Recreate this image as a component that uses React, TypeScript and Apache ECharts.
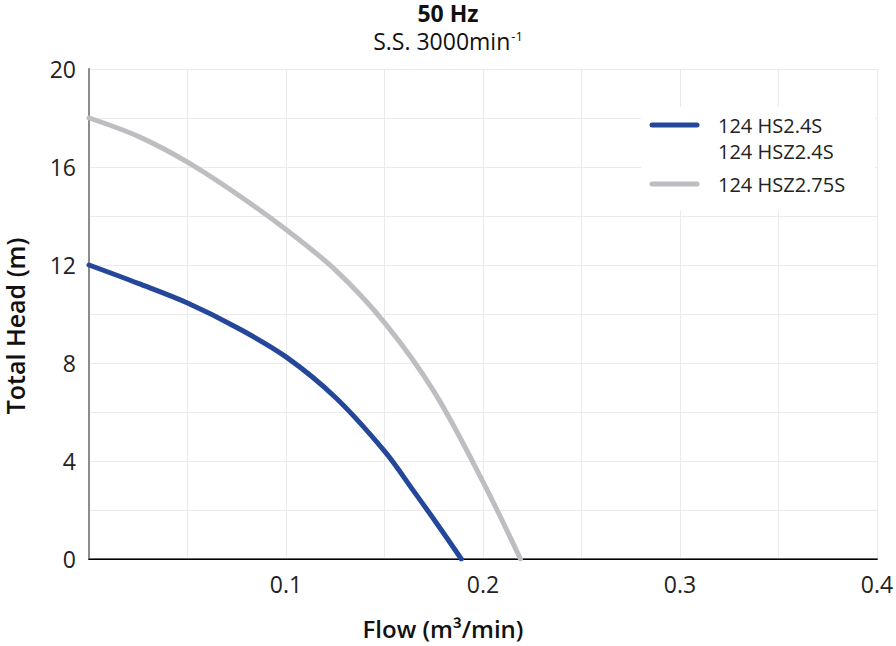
import React, { useEffect, useRef } from "react";
import * as echarts from "echarts";

const seriesNames = ["124 HS2.4S\n124 HSZ2.4S", "124 HSZ2.75S"];
const seriesColors = ["#24479a", "#bdbec2"];
const blueFlow = [0, 0.025, 0.05, 0.075, 0.1, 0.125, 0.15, 0.165, 0.177, 0.189];
const blueHead = [12, 11.25, 10.45, 9.45, 8.25, 6.6, 4.4, 2.75, 1.4, 0];
const grayFlow = [0, 0.025, 0.05, 0.075, 0.1, 0.125, 0.15, 0.175, 0.2, 0.219];
const grayHead = [18, 17.25, 16.2, 14.9, 13.45, 11.8, 9.65, 6.85, 3.15, 0];
const xTicks = [0.1, 0.2, 0.3, 0.4];
const yTicks = [0, 4, 8, 12, 16, 20];

const FONT = "'Open Sans', 'Noto Sans', sans-serif";

export default function App() {
  const ref = useRef<HTMLDivElement>(null);
  useEffect(() => {
    if (!ref.current) return;
    const chart = echarts.init(ref.current, null, { renderer: "svg" });
    const zip = (xs: number[], ys: number[]) => xs.map((x, i) => [x, ys[i]]);
    const legendRows = [
      { name: seriesNames[0], color: seriesColors[0], y: 125 },
      { name: seriesNames[1], color: seriesColors[1], y: 184 },
    ];
    chart.setOption({
      animation: false,
      textStyle: { fontFamily: FONT },
      title: [
        {
          text: "50 Hz",
          left: "center",
          top: 2,
          padding: 0,
          textStyle: { fontFamily: FONT, fontSize: 23, fontWeight: "bold", color: "#111", lineHeight: 22 },
        },
        {
          text: "{a|S.S. 3000min}{b|-1}",
          left: "center",
          top: 29,
          padding: 0,
          textStyle: {
            fontFamily: FONT,
            fontWeight: "normal",
            rich: {
              a: { fontFamily: FONT, fontSize: 23, fontWeight: "normal", color: "#111", lineHeight: 23 },
              b: { fontFamily: FONT, fontSize: 13, fontWeight: "normal", color: "#111", lineHeight: 23, verticalAlign: "top", padding: [0, 0, 10, 1] },
            },
          },
        },
      ],
      grid: { left: 89, top: 69, right: 19, bottom: 87, show: false, outerBoundsMode: "none", containLabel: false },
      xAxis: [
        {
          type: "value",
          min: 0,
          max: 0.4,
          interval: 0.05,
          name: "Flow (m³/min)",
          nameLocation: "middle",
          nameGap: 57,
          nameTextStyle: { fontFamily: FONT, fontSize: 24, fontWeight: 600, color: "#111", padding: [0, 80, 0, 0] },
          axisLine: { show: true, lineStyle: { color: "#666", width: 2 } },
          axisTick: { show: false },
          axisLabel: {
            fontFamily: FONT,
            fontSize: 23,
            color: "#222",
            margin: 13,
            formatter: (v: number) => {
              const r = Math.round(v * 100) / 100;
              return xTicks.some((t) => Math.abs(t - r) < 1e-9) ? String(r) : "";
            },
          },
          splitLine: { show: true, lineStyle: { color: "#ebebeb", width: 1 } },
        },
        {
          type: "value",
          position: "top",
          min: 0,
          max: 0.4,
          axisLine: { show: true, lineStyle: { color: "#000", width: 1 } },
          axisTick: { show: false },
          axisLabel: { show: false },
          splitLine: { show: false },
        },
      ],
      yAxis: [
        {
          type: "value",
          min: 0,
          max: 20,
          interval: 2,
          name: "Total Head (m)",
          nameLocation: "middle",
          nameGap: 61,
          nameTextStyle: { fontFamily: FONT, fontSize: 25, fontWeight: 600, color: "#111", lineHeight: 26, padding: [0, 24, 0, 0] },
          axisLine: { show: true, lineStyle: { color: "#111", width: 1 } },
          axisTick: { show: false },
          axisLabel: {
            fontFamily: FONT,
            fontSize: 23,
            color: "#222",
            margin: 13,
            formatter: (v: number) => (yTicks.indexOf(Math.round(v)) >= 0 ? String(Math.round(v)) : ""),
          },
          splitLine: { show: true, lineStyle: { color: "#ebebeb", width: 1 } },
        },
        {
          type: "value",
          position: "right",
          min: 0,
          max: 20,
          axisLine: { show: true, lineStyle: { color: "#8c8c8c", width: 2 } },
          axisTick: { show: false },
          axisLabel: { show: false },
          splitLine: { show: false },
        },
      ],
      graphic: [
        {
          type: "group",
          children: [
            { type: "rect", shape: { x: 641, y: 107, width: 234, height: 104 }, style: { fill: "#fff" }, z: 1 },
            ...legendRows.flatMap((r) => [
              {
                type: "line",
                shape: { x1: 652, y1: r.y, x2: 697, y2: r.y },
                style: { stroke: r.color, lineWidth: 5, lineCap: "round" },
                z: 2,
              },
              {
                type: "text",
                x: 718,
                y: r.y - 13,
                style: { text: r.name, fill: "#222", font: `20px ${FONT}`, lineHeight: 26, textVerticalAlign: "top" },
                z: 2,
              },
            ]),
          ],
        },
      ],
      series: [
        {
          name: seriesNames[0],
          type: "line",
          smooth: 0.35,
          showSymbol: false,
          data: zip(blueFlow, blueHead),
          lineStyle: { color: seriesColors[0], width: 5, cap: "round" },
          itemStyle: { color: seriesColors[0] },
          z: 3,
        },
        {
          name: seriesNames[1],
          type: "line",
          smooth: 0.35,
          showSymbol: false,
          data: zip(grayFlow, grayHead),
          lineStyle: { color: seriesColors[1], width: 5, cap: "round" },
          itemStyle: { color: seriesColors[1] },
          z: 3,
        },
      ],
    });
    return () => chart.dispose();
  }, []);
  return <div ref={ref} style={{ width: 896, height: 646, position: "absolute", left: 0, top: 0 }} />;
}
